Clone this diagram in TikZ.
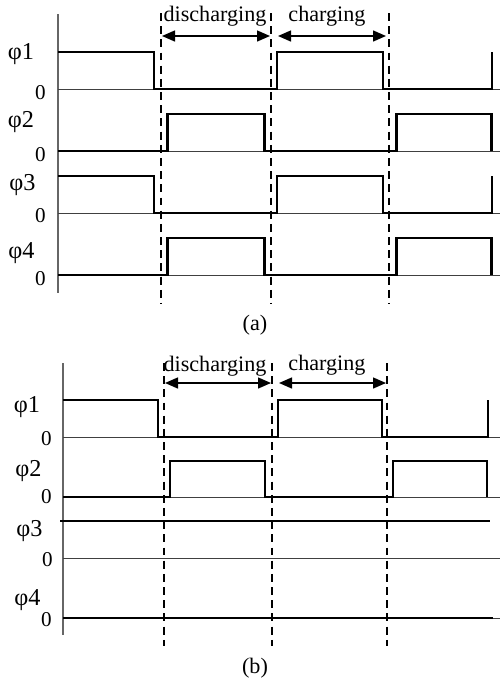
\documentclass[tikz,border=0pt]{standalone}
\usepackage{fontspec}
\setmainfont{Liberation Serif}
\usetikzlibrary{arrows.meta, positioning}

\begin{document}
\begin{tikzpicture}[
            sig/.style={line width=1.35pt, line join=miter},
            zero/.style={line width=0.55pt, black!75},
            yaxis/.style={line width=0.9pt, black!60},
            phase/.style={line width=0.8pt, dash pattern=on 4.5pt off 3pt},
            span/.style={{Triangle[length=2.6mm, width=2.2mm]}-{Triangle[length=2.6mm, width=2.2mm]}, line width=0.8pt},
            lbl/.style={font=\fontsize{12.6}{14}\selectfont, inner sep=0pt},
            phi/.style={font=\fontsize{13.8}{15}\selectfont, inner sep=0pt},
            lvl/.style={font=\fontsize{12}{14}\selectfont, inner sep=0pt}
        ]
        \useasboundingbox (0,0) rectangle (10,-13.56);

        % (a) axes
        \draw[yaxis] (1.16,-0.28) -- (1.16,-5.86);
        \foreach \z in {-1.78,-3.02,-4.26,-5.50}
            \draw[zero] (1.16,\z) -- (10,\z);

        % (a) phases 1 and 3
        \foreach \z in {-1.78,-4.26}
            \draw[sig] (1.16,\z+0.74) -- (3.08,\z+0.74) -- (3.08,\z) -- (5.54,\z) -- (5.54,\z+0.74)
                -- (7.66,\z+0.74) -- (7.66,\z) -- (9.84,\z) -- (9.84,\z+0.74);
        % (a) phases 2 and 4
        \foreach \z in {-3.02,-5.50}
            \draw[sig] (1.16,\z) -- (3.35,\z) -- (3.35,\z+0.74) -- (5.29,\z+0.74) -- (5.29,\z)
                -- (7.93,\z) -- (7.93,\z+0.74) -- (9.83,\z+0.74) -- (9.83,\z);

        % (a) boundaries
        \foreach \x in {3.22,5.42,7.78}
            \draw[phase] (\x,-0.26) -- (\x,-6.06);
        \coordinate (adL) at (3.24,-0.72);
        \coordinate (adR) at (5.40,-0.72);
        \coordinate (acL) at (5.56,-0.72);
        \coordinate (acR) at (7.72,-0.72);
        \draw[span] (adL) -- (adR);
        \draw[span] (acL) -- (acR);
        \node[lbl] (adis) at (4.30,-0.33) {discharging};
        \node[lbl] (acha) at (6.54,-0.32) {charging};

        % (a) labels
        \node[phi] (aphi1) at (0.42,-1.08) {φ1};
        \node[lvl] (azero1) at (0.81,-1.86) {0};
        \node[phi] (aphi2) at (0.42,-2.44) {φ2};
        \node[lvl] (azero2) at (0.81,-3.10) {0};
        \node[phi] (aphi3) at (0.45,-3.70) {φ3};
        \node[lvl] (azero3) at (0.81,-4.32) {0};
        \node[phi] (aphi4) at (0.43,-5.06) {φ4};
        \node[lvl] (azero4) at (0.81,-5.58) {0};
        \node[lbl] (capa) at (5.10,-6.50) {(a)};

        % (b) axes
        \draw[yaxis] (1.26,-7.26) -- (1.26,-12.70);
        \foreach \z in {-8.74,-9.94,-11.16,-12.36}
            \draw[zero] (1.26,\z) -- (10,\z);

        % (b) phases 1 and 2
        \draw[sig] (1.26,-8.00) -- (3.16,-8.00) -- (3.16,-8.74) -- (5.56,-8.74) -- (5.56,-8.00)
            -- (7.64,-8.00) -- (7.64,-8.74) -- (9.76,-8.74) -- (9.76,-8.00);
        \draw[sig] (1.26,-9.94) -- (3.40,-9.94) -- (3.40,-9.22) -- (5.30,-9.22) -- (5.30,-9.94)
            -- (7.86,-9.94) -- (7.86,-9.22) -- (9.74,-9.22) -- (9.74,-9.94);
        % (b) phases 3 and 4 stay flat
        \draw[sig] (1.20,-10.42) -- (9.80,-10.42);
        \draw[sig] (1.26,-12.36) -- (9.86,-12.36);

        % (b) boundaries
        \foreach \x in {3.28,5.44,7.74}
            \draw[phase] (\x,-7.26) -- (\x,-12.92);
        \coordinate (bdL) at (3.30,-7.66);
        \coordinate (bdR) at (5.42,-7.66);
        \coordinate (bcL) at (5.58,-7.66);
        \coordinate (bcR) at (7.72,-7.66);
        \draw[span] (bdL) -- (bdR);
        \draw[span] (bcL) -- (bcR);
        \node[lbl] (bdis) at (4.30,-7.32) {discharging};
        \node[lbl] (bcha) at (6.54,-7.30) {charging};

        % (b) labels
        \node[phi] (bphi1) at (0.54,-8.14) {φ1};
        \node[lvl] (bzero1) at (0.93,-8.77) {0};
        \node[phi] (bphi2) at (0.57,-9.43) {φ2};
        \node[lvl] (bzero2) at (0.93,-9.94) {0};
        \node[phi] (bphi3) at (0.59,-10.63) {φ3};
        \node[lvl] (bzero3) at (0.95,-11.20) {0};
        \node[phi] (bphi4) at (0.55,-12.00) {φ4};
        \node[lvl] (bzero4) at (0.93,-12.40) {0};
        \node[lbl] (capb) at (5.10,-13.36) {(b)};

        \end{tikzpicture}
\end{document}
